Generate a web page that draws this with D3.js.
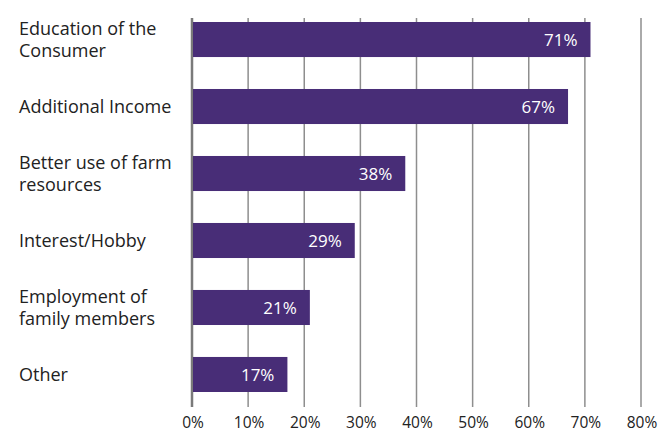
<!DOCTYPE html>
<html>
<head>
<meta charset="utf-8">
<script src="https://cdn.jsdelivr.net/npm/d3@7"></script>
<style>
  body { margin: 0; background: #fff; }
  svg text { font-family: "Open Sans", "Noto Sans", sans-serif; }
</style>
</head>
<body>
<div id="chart"></div>
<script>
// survey answers, top to bottom
var categories = [
  "Education of the Consumer",
  "Additional Income",
  "Better use of farm resources",
  "Interest/Hobby",
  "Employment of family members",
  "Other"
];
// how the labels break onto lines
var categoryLines = [
  ["Education of the", "Consumer"],
  ["Additional Income"],
  ["Better use of farm", "resources"],
  ["Interest/Hobby"],
  ["Employment of", "family members"],
  ["Other"]
];
var values = [71, 67, 38, 29, 21, 17];
var tickValues = [0, 10, 20, 30, 40, 50, 60, 70, 80];

var width = 662, height = 432
  , barColor = "#482d77"
  , gridColor = "#8e8e8e";

var svg = d3.select("#chart").append("svg")
  .attr("width", width)
  .attr("height", height);

var x = d3.scaleLinear()
  .domain([0, 80])
  .range([192, 641]);

var y = d3.scaleBand()
  .domain(categories)
  .range([22, 392])
  .paddingInner(0.477)
  .paddingOuter(0);

var gridTop = 18, gridBottom = 407;

// vertical grid lines (the 0 line is the axis, a bit heavier)
svg.append("g")
  .selectAll("line")
  .data(tickValues)
  .enter().append("line")
    .attr("x1", function(d) { return x(d); })
    .attr("x2", function(d) { return x(d); })
    .attr("y1", gridTop)
    .attr("y2", gridBottom)
    .attr("stroke", function(d) { return d === 0 ? "#7a7a7a" : gridColor; })
    .attr("stroke-width", function(d) { return d === 0 ? 2.5 : 1.5; });

// tick labels along the bottom
svg.append("g")
  .selectAll("text")
  .data(tickValues)
  .enter().append("text")
    .attr("x", function(d) { return x(d) + 1; })
    .attr("y", 428)
    .attr("text-anchor", "middle")
    .attr("font-size", "15.5px")
    .attr("fill", "#222")
    .text(function(d) { return d + "%"; });

var rows = svg.append("g")
  .selectAll("g")
  .data(categories)
  .enter().append("g");

rows.append("rect")
  .attr("x", x(0) + 1)
  .attr("y", function(d) { return y(d); })
  .attr("width", function(d, i) { return x(values[i]) - x(0) - 1; })
  .attr("height", y.bandwidth())
  .attr("fill", barColor);

rows.append("text")
  .attr("x", function(d, i) { return x(values[i]) - 13; })
  .attr("y", function(d) { return y(d) + y.bandwidth() / 2; })
  .attr("dy", "0.36em")
  .attr("text-anchor", "end")
  .attr("font-size", "17px")
  .attr("fill", "#fff")
  .text(function(d, i) { return values[i] + "%"; });

// category labels, one or two lines, centred on the bar
rows.append("text")
  .attr("font-size", "18px")
  .attr("fill", "#222")
  .each(function(d, i) {
    var lines = categoryLines[i]
      , cy = y(d) + y.bandwidth() / 2
      , lh = 22;
    d3.select(this).selectAll("tspan")
      .data(lines)
      .enter().append("tspan")
        .attr("x", 19)
        .attr("y", function(l, j) { return cy + (j - (lines.length - 1) / 2) * lh; })
        .attr("dy", "0.36em")
        .text(function(l) { return l; });
  });
</script>
</body>
</html>
